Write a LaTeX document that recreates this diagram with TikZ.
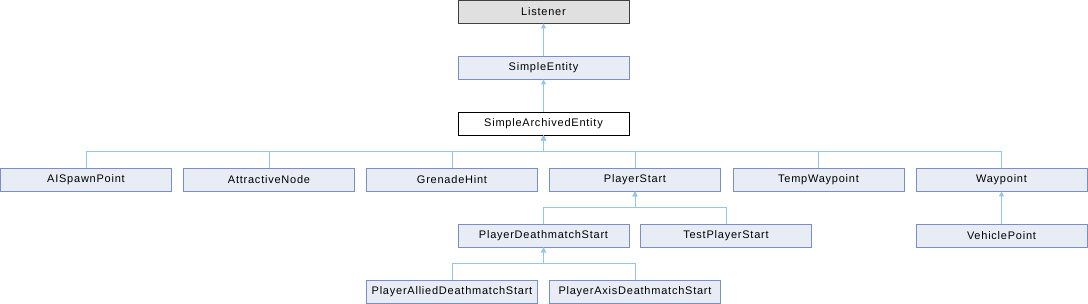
\documentclass[tikz,border=0pt]{standalone}
\usepackage{fontspec}
\setmainfont{Liberation Sans}[LetterSpace=7]
\usetikzlibrary{arrows.meta}
\definecolor{boxfill}{HTML}{E8ECF5}
\definecolor{boxline}{HTML}{7B8FC7}
\definecolor{edgecol}{HTML}{94C6EA}
\definecolor{graybox}{HTML}{E0E0E0}
\tikzset{
  cls/.style={draw=boxline, fill=boxfill, line width=0.8pt, minimum width=171pt, minimum height=23pt, inner sep=0pt, font=\fontsize{11}{13}\selectfont},
  root/.style={cls, draw=black!75, fill=graybox},
  cur/.style={cls, draw=black, fill=white},
  edge/.style={draw=edgecol, line width=0.8pt, {Triangle[width=5pt,length=5pt]}-}
}
\begin{document}
\begin{tikzpicture}[x=1pt,y=-1pt]
\useasboundingbox (0,0) rectangle (1088,304);
\node[root] (listener) at (543.5,11.5) {Listener};
\node[cls] (simple) at (543.5,67.5) {SimpleEntity};
\node[cur] (sae) at (543.5,123.5) {SimpleArchivedEntity};
\node[cls] (ai) at (86,179.5) {AISpawnPoint};
\node[cls] (attr) at (269,179.5) {AttractiveNode};
\node[cls] (gren) at (452,179.5) {GrenadeHint};
\node[cls] (ps) at (635,179.5) {PlayerStart};
\node[cls] (temp) at (818.5,179.5) {TempWaypoint};
\node[cls] (way) at (1001.5,179.5) {Waypoint};
\node[cls] (pds) at (543.5,235.5) {PlayerDeathmatchStart};
\node[cls] (tps) at (726,235.5) {TestPlayerStart};
\node[cls] (veh) at (1001.5,235.5) {VehiclePoint};
\node[cls] (allied) at (452,291.5) {PlayerAlliedDeathmatchStart};
\node[cls] (axis) at (635,291.5) {PlayerAxisDeathmatchStart};
\draw[edge] (listener.south) -- (simple.north);
\draw[edge] (simple.south) -- (sae.north);
\foreach \c in {ai,attr,gren,ps,temp,way}
  \draw[edge] (sae.south) -- ++(0,16.5) -| (\c.north);
\foreach \c in {pds,tps}
  \draw[edge] (ps.south) -- ++(0,16.5) -| (\c.north);
\draw[edge] (way.south) -- (veh.north);
\foreach \c in {allied,axis}
  \draw[edge] (pds.south) -- ++(0,16.5) -| (\c.north);
\end{tikzpicture}
\end{document}
